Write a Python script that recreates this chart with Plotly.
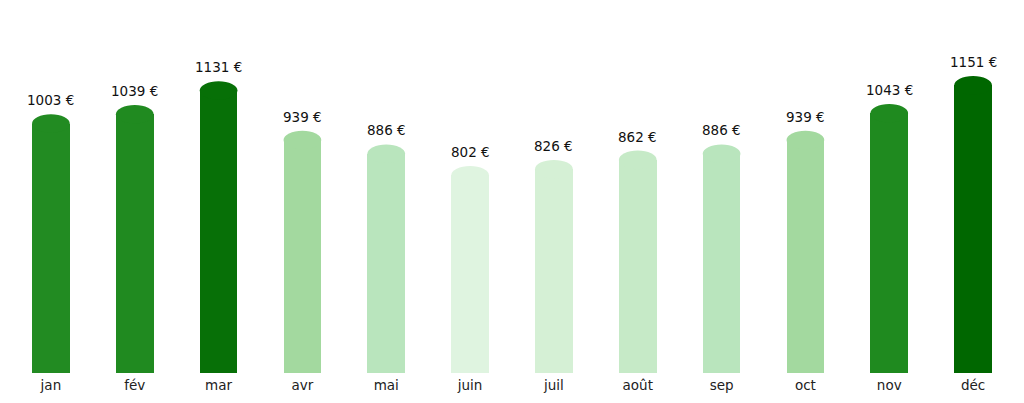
import plotly.graph_objects as go

# Monthly amounts (€)
mois = ["jan", "fév", "mar", "avr", "mai", "juin", "juil", "août", "sep", "oct", "nov", "déc"]
montants = [1003, 1039, 1131, 939, 886, 802, 826, 862, 886, 939, 1043, 1151]
couleurs = ["#228b22", "#208a20", "#077007", "#a3d99f", "#b9e5bd", "#dff4e0",
            "#d5f0d5", "#c6eac7", "#b9e5bd", "#a3d99f", "#1f8a1f", "#006700"]
etiquettes = [f"{v} €" for v in montants]

# rounded top: bar body stops a bit below the value, an ellipse closes it
cap = 36
bar_w = 0.45

fig = go.Figure()
fig.add_trace(go.Bar(
    x=list(range(len(mois))),
    y=[v - cap for v in montants],
    width=bar_w,
    marker=dict(color=couleurs, line=dict(width=0)),
    hoverinfo="skip",
))

for i, (v, c, t) in enumerate(zip(montants, couleurs, etiquettes)):
    fig.add_shape(type="circle", xref="x", yref="y",
                  x0=i - bar_w / 2, x1=i + bar_w / 2,
                  y0=v - 2 * cap, y1=v,
                  fillcolor=c, line=dict(width=0), layer="above")
    fig.add_annotation(x=i, y=v, text=t, showarrow=False,
                       yanchor="middle", yshift=14,
                       font=dict(family="DejaVu Sans", size=13.5, color="#111111"))

# page body has an 8px margin, so the figure is sized to fit inside it
fig.update_layout(
    width=1008, height=387,
    margin=dict(l=1, r=1, t=2, b=22),
    plot_bgcolor="white", paper_bgcolor="white",
    showlegend=False,
    bargap=0,
    font=dict(family="DejaVu Sans", size=13.5, color="#222222"),
    xaxis=dict(
        tickmode="array", tickvals=list(range(len(mois))), ticktext=mois,
        range=[-0.5, len(mois) - 0.5],
        showgrid=False, zeroline=False, showline=False, ticks="",
        ticklabelstandoff=2,
        tickfont=dict(size=13.5, color="#222222"),
    ),
    yaxis=dict(range=[0, 1407], visible=False, showgrid=False, zeroline=False),
)

fig.write_html("out.html")
